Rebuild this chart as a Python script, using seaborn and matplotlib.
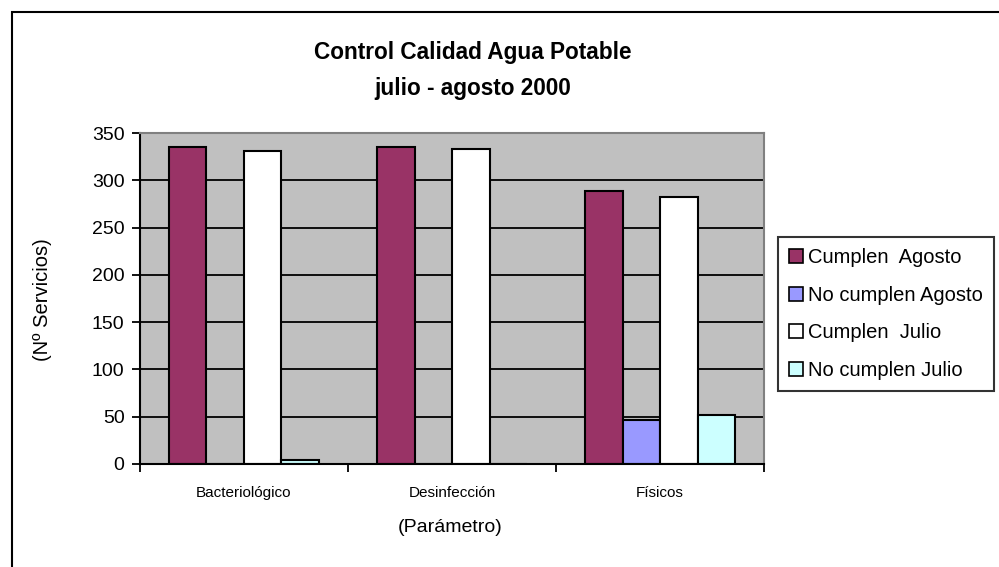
import matplotlib.pyplot as plt
import numpy as np
import pandas as pd
import seaborn as sns
from matplotlib.patches import Rectangle

# datos
parametros = ["Bacteriológico", "Desinfección", "Físicos"]
series = ["Cumplen  Agosto", "No cumplen Agosto", "Cumplen  Julio", "No cumplen Julio"]
cumplen_agosto = [335, 335, 289]
no_cumplen_agosto = [0, 0, 46]
cumplen_julio = [331, 333, 282]
no_cumplen_julio = [4, 0, 52]
colores = ["#993366", "#9999FF", "#FFFFFF", "#CCFFFF"]

df = pd.DataFrame({
    "parametro": parametros,
    series[0]: cumplen_agosto,
    series[1]: no_cumplen_agosto,
    series[2]: cumplen_julio,
    series[3]: no_cumplen_julio,
})
df_long = df.melt(id_vars="parametro", var_name="serie", value_name="valor")

sns.set_style("white")
plt.rcParams["font.family"] = ["Liberation Sans", "DejaVu Sans"]
plt.rcParams["text.color"] = "black"
plt.rcParams["xtick.color"] = "black"
plt.rcParams["ytick.color"] = "black"

fig = plt.figure(figsize=(9.99, 5.67), dpi=100)
ax = fig.add_axes([0.140, 0.1817, 0.625, 0.5837])
sns.barplot(data=df_long, x="parametro", y="valor", hue="serie", hue_order=series,
            palette=colores, saturation=1, width=0.72, gap=0,
            edgecolor="black", linewidth=1.5, ax=ax)

ax.set_facecolor("#C0C0C0")
ax.set_axisbelow(True)
ax.yaxis.grid(True, color="black", linewidth=1.3)
ax.set_ylim(0, 350)
ax.set_yticks(np.arange(0, 351, 50))
ax.tick_params(axis="y", direction="out", length=6, width=1.3, labelsize=14, pad=5, left=True)

ax.set_xlim(-0.5, 2.5)
ax.set_xticks([-0.5, 0.5, 1.5, 2.5])
ax.set_xticklabels([])
ax.tick_params(axis="x", which="major", direction="out", length=6, width=1.3, bottom=True)
ax.set_xticks([0, 1, 2], minor=True)
ax.set_xticklabels(parametros, minor=True, fontsize=11)
ax.tick_params(axis="x", which="minor", length=0, pad=16)

for s in ["left", "bottom"]:
    ax.spines[s].set_color("black")
    ax.spines[s].set_linewidth(1.5)
for s in ["top", "right"]:
    ax.spines[s].set_color("#808080")
    ax.spines[s].set_linewidth(1.5)

ax.set_xlabel("")
ax.set_ylabel("")
fig.text(0.451, 1 - 527 / 567, "(Parámetro)", ha="center", va="center", fontsize=14)
fig.text(43 / 999, 1 - 300 / 567, "(Nº Servicios)", ha="center", va="center",
         rotation=90, fontsize=14.5)

fig.text(0.4735, 1 - 52 / 567, "Control Calidad Agua Potable", ha="center", va="center",
         fontsize=16.3, fontweight="bold")
fig.text(0.4735, 1 - 88 / 567, "julio - agosto 2000", ha="center", va="center",
         fontsize=16.3, fontweight="bold")

handles = [Rectangle((0, 0), 1, 1, facecolor=c, edgecolor="black", linewidth=1.2) for c in colores]
leg = ax.legend(handles, series, loc="upper left", bbox_to_anchor=(778 / 999, 1 - 237 / 567),
                bbox_transform=fig.transFigure, frameon=True, fancybox=False, borderaxespad=0,
                handlelength=0.7, handleheight=0.7, handletextpad=0.25, labelspacing=0.92,
                fontsize=14.5, borderpad=0.55)
leg.get_frame().set_edgecolor("black")
leg.get_frame().set_linewidth(1.5)

fig.patches.append(Rectangle((12 / 999, -0.1), 1.2, 1 - 12 / 567 + 0.1, transform=fig.transFigure,
                             fill=False, edgecolor="black", linewidth=1.5))

fig.savefig("out.png", dpi=100)
